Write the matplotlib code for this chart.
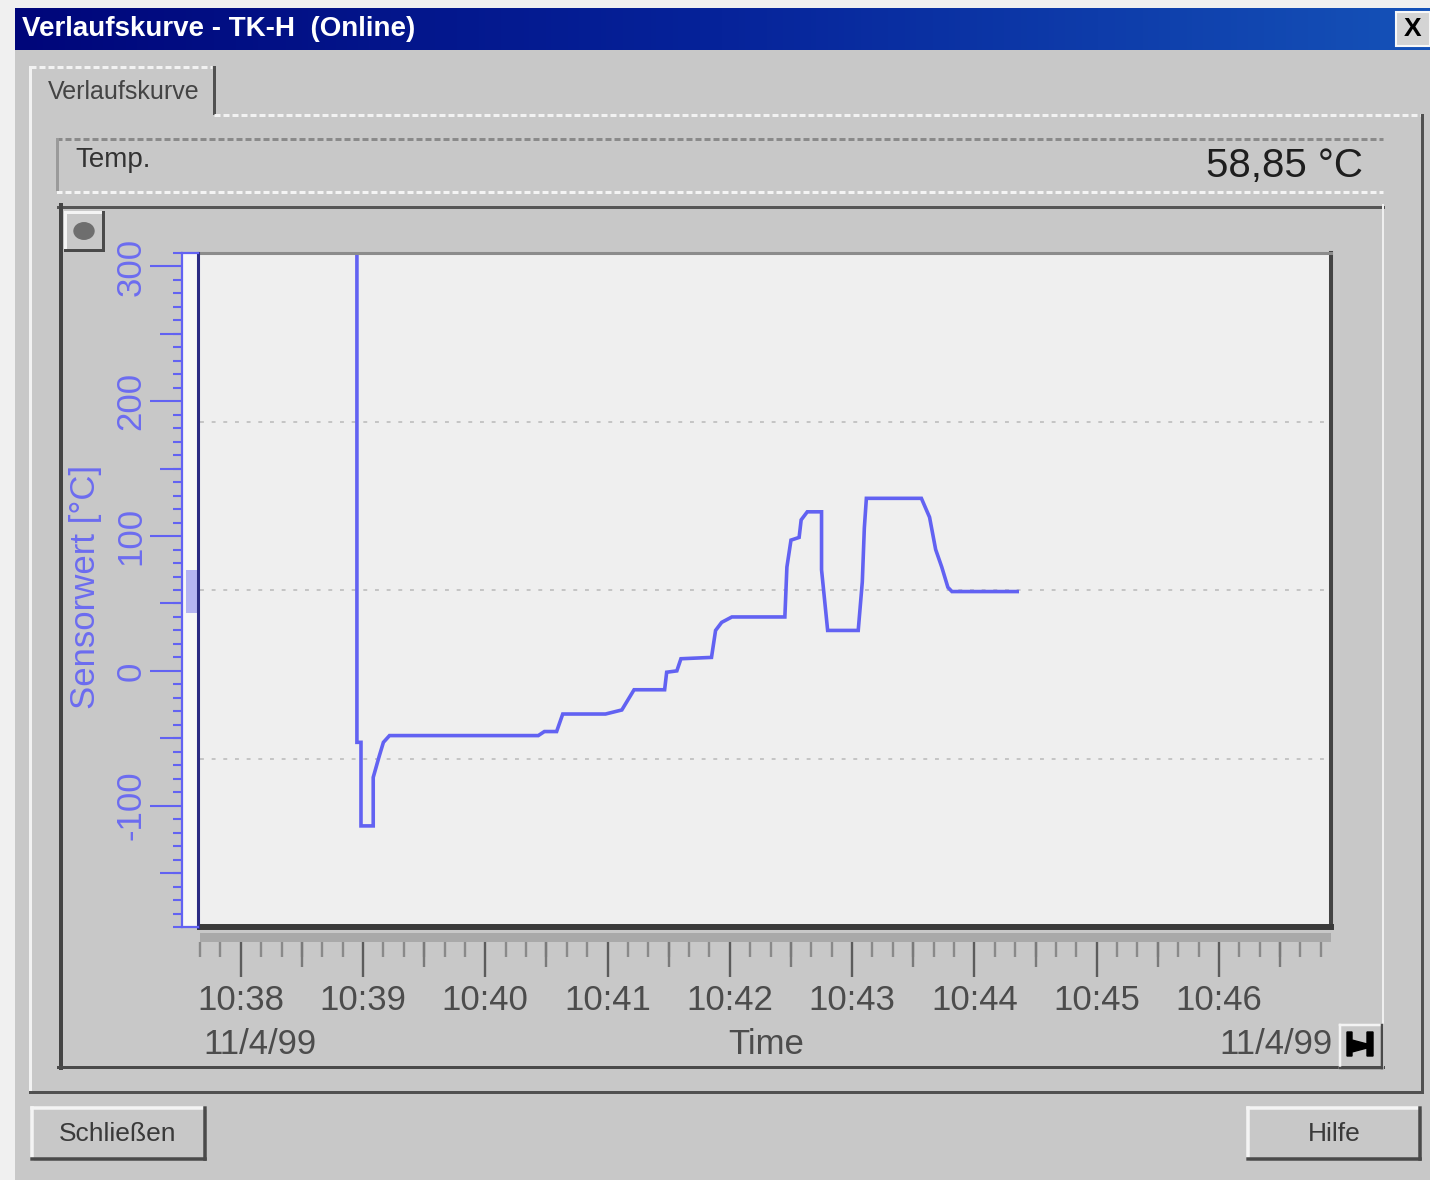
import matplotlib
matplotlib.use("Agg")
import matplotlib.pyplot as plt
import numpy as np
from matplotlib.patches import Rectangle, Polygon, Circle
from matplotlib.lines import Line2D
from matplotlib.colors import LinearSegmentedColormap
from matplotlib.ticker import FixedLocator, MultipleLocator

plt.rcParams['font.family'] = ['Liberation Sans', 'DejaVu Sans']
plt.rcParams['axes.unicode_minus'] = False

# ---- data ----
times = ["10:38:57", "10:38:57", "10:38:59", "10:38:59", "10:39:05", "10:39:05",
         "10:39:08", "10:39:10", "10:39:13", "10:40:26", "10:40:29", "10:40:35",
         "10:40:38", "10:40:59", "10:41:07", "10:41:13", "10:41:28", "10:41:29",
         "10:41:34", "10:41:36", "10:41:51", "10:41:53", "10:41:56", "10:42:01",
         "10:42:27", "10:42:28", "10:42:30", "10:42:34", "10:42:35", "10:42:38",
         "10:42:45", "10:42:45", "10:42:47", "10:42:48", "10:43:03", "10:43:05",
         "10:43:06", "10:43:07", "10:43:34", "10:43:38", "10:43:41", "10:43:44",
         "10:43:47", "10:43:49", "10:44:21"]
values = [330, -53, -53, -115, -115, -79,
          -63, -53, -48, -48, -45, -45,
          -32, -32, -29, -14, -14, -1,
          0, 9, 10, 30, 36, 40,
          40, 77, 97, 99, 112, 118,
          118, 75, 45, 30, 30, 66,
          106, 128, 128, 114, 90, 77,
          62, 58.85, 58.85]
current_value = 58.85
current_text = "58,85 °C"
x_tick_labels = ["10:38", "10:39", "10:40", "10:41", "10:42", "10:43", "10:44", "10:45", "10:46"]
x_start, x_end = "10:37:40", "10:46:55"
y_ticks = [-100, 0, 100, 200, 300]
y_range = (-190, 310)
date_label = "11/4/99"
window_title = "Verlaufskurve - TK-H  (Online)"

W, H = 1430, 1180
BLUE = '#6262f2'
LBLUE = '#6c6cf0'


def to_sec(t):
    p = [int(v) for v in t.split(':')]
    if len(p) == 2:
        p.append(0)
    return p[0] * 3600 + p[1] * 60 + p[2] - (10 * 3600 + 38 * 60)


fig = plt.figure(figsize=(W / 100, H / 100), dpi=100, facecolor='#c8c8c8')


def fx(x):
    return x / W


def fy(y):
    return 1 - y / H


def box(x0, y0, x1, y1, **kw):
    fig.patches.append(Rectangle((fx(x0), fy(y1)), (x1 - x0) / W, (y1 - y0) / H,
                                 transform=fig.transFigure, **kw))


def line(xs, ys, color, w, **kw):
    fig.lines.append(Line2D([fx(v) for v in xs], [fy(v) for v in ys], color=color,
                            lw=w * 0.72, transform=fig.transFigure, **kw))


def bevel(x0, y0, x1, y1, light='#f4f4f4', dark='#4a4a4a', w=3):
    line([x0, x1], [y0, y0], light, w)
    line([x0, x0], [y0, y1], light, w)
    line([x0, x1], [y1, y1], dark, w)
    line([x1, x1], [y0, y1], dark, w)


# window background
box(0, 0, 15, H, color='#f0f0f0', lw=0)
box(0, 0, W, 8, color='#f0f0f0', lw=0)

# title bar
tb = fig.add_axes([fx(15), fy(50), (W - 15) / W, 42 / H])
cmap = LinearSegmentedColormap.from_list('tb', ['#00067a', '#06239a', '#1552b8'])
tb.imshow(np.linspace(0, 1, 256).reshape(1, -1), aspect='auto', cmap=cmap, extent=(0, 1, 0, 1))
tb.set_axis_off()
fig.text(fx(22), fy(29), window_title, color='white', fontsize=20, fontweight='bold',
         ha='left', va='center')
box(1396, 12, 1430, 46, facecolor='#d4d4d4', edgecolor='#f8f8f8', lw=1.5)
fig.text(fx(1413), fy(29), "X", color='black', fontsize=19, fontweight='bold',
         ha='center', va='center')

# tab + panel
line([30, 212], [67, 67], '#f2f2f2', 3, ls=(0, (2, 1)))
line([30, 30], [67, 1092], '#f2f2f2', 3)
line([214, 214], [67, 113], '#505050', 3)
line([214, 1422], [115, 115], '#f2f2f2', 3, ls=(0, (2, 1)))
line([1422, 1422], [115, 1092], '#505050', 3)
line([30, 1422], [1092, 1092], '#505050', 3)
fig.text(fx(48), fy(92), "Verlaufskurve", fontsize=18, color='#444444', ha='left', va='center')

# temp box
line([56, 1383], [139, 139], '#8a8a8a', 3, ls=(0, (2, 1)))
line([57, 57], [139, 192], '#9a9a9a', 3)
line([56, 1383], [192, 192], '#f4f4f4', 3, ls=(0, (2, 1)))
fig.text(fx(75), fy(160), "Temp.", fontsize=20, color='#333333', ha='left', va='center')
fig.text(fx(1363), fy(166), current_text, fontsize=29, color='#1e1e1e', ha='right', va='center')

# chart frame
line([58, 1383], [207, 207], '#555555', 3)
line([61, 61], [205, 1068], '#444444', 4)
line([58, 1383], [1067, 1067], '#4a4a4a', 3)
line([1383, 1383], [205, 1068], '#efefef', 2)
box(65, 212, 103, 250, facecolor='#c8c8c8', lw=0)
bevel(65, 212, 103, 250, w=3)
fig.patches.append(Circle((fx(84), fy(231)), 10 / W, transform=fig.transFigure,
                          color='#6e6e6e'))

# ---- main plot ----
secs = [to_sec(t) for t in times]
ax = fig.add_axes([fx(200), fy(927), 1131 / W, 674 / H])
ax.set_facecolor('#efefef')
ax.set_xlim(to_sec(x_start), to_sec(x_end))
ax.set_ylim(*y_range)
lo, hi = ax.get_ylim()
for f in (0.25, 0.5, 0.75):
    ax.axhline(lo + f * (hi - lo), color='#c4c4c4', lw=1.4, ls=(0, (2, 4)))
ax.plot(secs, values, color=BLUE, lw=2.6, solid_joinstyle='miter')
ax.set_xticks([])
ax.set_yticks([])
ax.spines['left'].set_visible(False)
ax.spines['top'].set_color('#8c8c8c')
ax.spines['top'].set_linewidth(2.2)
ax.spines['right'].set_color('#444444')
ax.spines['right'].set_linewidth(2.9)
ax.spines['bottom'].set_color('#3a3a3a')
ax.spines['bottom'].set_linewidth(4.3)

# y ruler
rul = fig.add_axes([fx(182), fy(927), 16 / W, 674 / H])
rul.set_facecolor('#f7f7f7')
rul.set_xlim(0, 1)
rul.set_ylim(*y_range)
rul.set_xticks([])
rul.axhspan(current_value - 16, current_value + 16, xmin=0.25, xmax=0.95, color='#b4b4f2', lw=0)
rul.yaxis.set_major_locator(FixedLocator(y_ticks))
rul.yaxis.set_minor_locator(MultipleLocator(10))
rul.tick_params(axis='y', which='major', length=23, width=1.5, color=BLUE, labelcolor=LBLUE,
                labelsize=25, labelrotation=90, pad=2)
rul.tick_params(axis='y', which='minor', length=6.5, width=1.5, color=BLUE)
for s in ('left', 'top', 'bottom'):
    rul.spines[s].set_color(BLUE)
    rul.spines[s].set_linewidth(1.6)
rul.spines['right'].set_color('#2c2c84')
rul.spines['right'].set_linewidth(2.2)
for lab in rul.get_yticklabels():
    lab.set_va('center')

rul2 = fig.add_axes([fx(182), fy(927), 16 / W, 674 / H], frameon=False)
rul2.set_xlim(0, 1)
rul2.set_ylim(*y_range)
rul2.set_xticks([])
rul2.yaxis.set_major_locator(FixedLocator([t + 50 for t in [y_ticks[0] - 100] + y_ticks
                                           if y_range[0] < t + 50 < y_range[1]]))
rul2.tick_params(axis='y', length=15.8, width=1.5, color=BLUE, labelleft=False)
rul2.patch.set_visible(False)

fig.text(fx(86), fy(587), "Sensorwert [°C]", rotation=90, fontsize=25, color=LBLUE,
         ha='center', va='center')

# x time axis
x_major = [to_sec(l) for l in x_tick_labels]
axt = fig.add_axes([fx(200), fy(942), 1131 / W, 9 / H])
axt.set_facecolor('#a9a9a9')
axt.set_xlim(to_sec(x_start), to_sec(x_end))
axt.set_yticks([])
for s in axt.spines.values():
    s.set_visible(False)
axt.xaxis.set_major_locator(FixedLocator(x_major))
axt.set_xticklabels(x_tick_labels)
axt.xaxis.set_minor_locator(MultipleLocator(10))
axt.tick_params(axis='x', which='major', length=25, width=1.7, color='#5c5c5c',
                labelcolor='#4c4c4c', labelsize=25, pad=5)
axt.tick_params(axis='x', which='minor', length=11, width=1.7, color='#8a8a8a')

axt2 = fig.add_axes([fx(200), fy(942), 1131 / W, 9 / H], frameon=False)
axt2.patch.set_visible(False)
axt2.set_xlim(to_sec(x_start), to_sec(x_end))
axt2.set_yticks([])
axt2.xaxis.set_major_locator(FixedLocator([m + 30 for m in [x_major[0] - 60] + x_major]))
axt2.tick_params(axis='x', length=18, width=1.7, color='#7a7a7a', labelbottom=False)

fig.text(fx(203), fy(1044), date_label, fontsize=25, color='#4c4c4c', ha='left', va='center')
fig.text(fx(766), fy(1044), "Time", fontsize=25, color='#4c4c4c', ha='center', va='center')
fig.text(fx(1333), fy(1044), date_label, fontsize=25, color='#4c4c4c', ha='right', va='center')

# end button
box(1340, 1025, 1382, 1068, facecolor='#c8c8c8', lw=0)
bevel(1340, 1025, 1382, 1068, w=2.5)
fig.patches.append(Polygon([(fx(1347), fy(1032)), (fx(1352), fy(1032)), (fx(1352), fy(1040)),
                            (fx(1367), fy(1044)), (fx(1367), fy(1032)), (fx(1373), fy(1032)),
                            (fx(1373), fy(1056)), (fx(1367), fy(1056)), (fx(1367), fy(1048)),
                            (fx(1352), fy(1052)), (fx(1352), fy(1056)), (fx(1347), fy(1056))],
                           closed=True, transform=fig.transFigure, color='black'))

# buttons
bevel(32, 1108, 205, 1159, w=3.5)
fig.text(fx(118), fy(1134), "Schließen", fontsize=19, color='#3a3a3a', ha='center', va='center')
bevel(1248, 1108, 1420, 1159, w=3.5)
fig.text(fx(1334), fy(1134), "Hilfe", fontsize=19, color='#3a3a3a', ha='center', va='center')

fig.savefig("out.png", dpi=100, facecolor=fig.get_facecolor())
